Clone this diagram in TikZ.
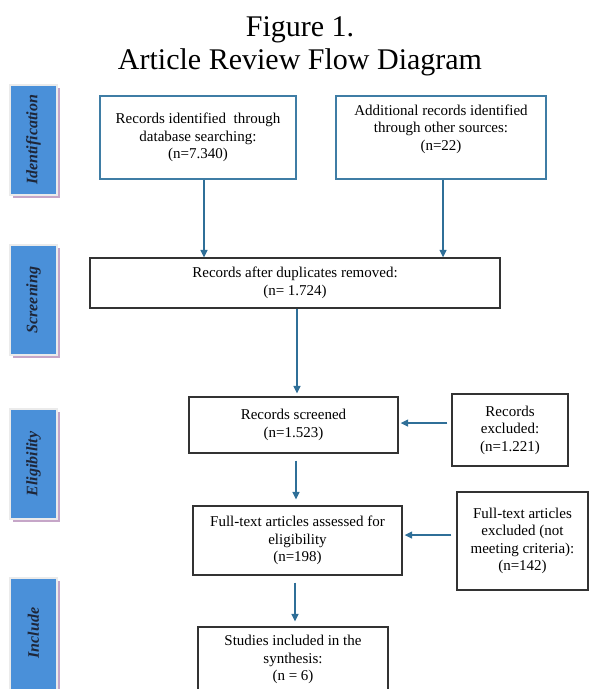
\documentclass[tikz,border=0pt]{standalone}
\usepackage{fontspec}
\setmainfont{Liberation Serif}
\usetikzlibrary{arrows.meta,shadows}
\definecolor{lblue}{HTML}{4A90D9}
\definecolor{mauve}{HTML}{C6A6C8}
\definecolor{arrowc}{HTML}{2F6F98}
\definecolor{boxblue}{HTML}{3F7DA5}
\definecolor{boxgray}{HTML}{333333}
\definecolor{labtext}{HTML}{1E2638}
\tikzset{
  titletext/.style={font=\fontsize{30bp}{33bp}\selectfont, inner sep=0pt},
  bodytext/.style={font=\fontsize{15bp}{17.5bp}\selectfont, align=center, inner sep=0pt},
  bluebox/.style={draw=boxblue, line width=1.3bp, rectangle, inner sep=0pt, font=\fontsize{15bp}{17.5bp}\selectfont, align=center},
  graybox/.style={draw=boxgray, line width=1.3bp, rectangle, inner sep=0pt, font=\fontsize{15bp}{17.5bp}\selectfont, align=center},
  sidebox/.style={fill=lblue, draw=black!8, line width=2bp, minimum width=47bp, minimum height=110bp, inner sep=0pt,
    drop shadow={shadow xshift=3bp, shadow yshift=-3bp, fill=mauve, opacity=1}},
  sidetext/.style={font=\fontsize{16bp}{16bp}\selectfont\bfseries\itshape, text=labtext},
  arr/.style={draw=arrowc, line width=1.4bp, -{Triangle[width=7bp,length=7.5bp]}}
}
\begin{document}
\begin{tikzpicture}[x=1bp,y=-1bp]
\useasboundingbox (0,0) rectangle (597,689);
\clip (0,0) rectangle (597,689);
% title
\node[titletext, anchor=base] (t1) at (300,37) {Figure 1.};
\node[titletext, anchor=base] (t2) at (300,70) {Article Review Flow Diagram};
% side labels
\node[sidebox] (lid) at (33.5,140) {};
\node[sidebox] (lsc) at (33.5,300) {};
\node[sidebox] (lel) at (33.5,464) {};
\node[sidebox, minimum height=116bp] (lin) at (33.5,636) {};
\node[sidetext, rotate=90] (lidt) at (lid) {Identification};
\node[sidetext, rotate=90] (lsct) at (lsc) {Screening};
\node[sidetext, rotate=90] (lelt) at (lel) {Eligibility};
\node[sidetext, rotate=90] (lint) at (33.5,633) {Include};
% boxes
\node[bluebox, minimum width=196bp, minimum height=83bp] (b1) at (198,137.5)
  {Records identified\ \ through\\database searching:\\(n=7.340)};
\node[bluebox, minimum width=210bp, minimum height=83bp] (b2) at (441,137.5) {};
\node[bodytext] (b2t) at (441,129) {Additional records identified\\through other sources:\\(n=22)};
\node[graybox, minimum width=410bp, minimum height=50bp] (scr) at (295,283)
  {Records after duplicates removed:\\(n= 1.724)};
\node[graybox, minimum width=209bp, minimum height=56bp] (rs) at (293.5,425)
  {Records screened\\(n=1.523)};
\node[graybox, minimum width=116bp, minimum height=72bp] (rex) at (510,430)
  {Records\\excluded:\\(n=1.221)};
\node[graybox, minimum width=209bp, minimum height=69bp] (ft) at (297.5,540.5)
  {Full-text articles assessed for\\eligibility\\(n=198)};
\node[graybox, minimum width=131bp, minimum height=98bp] (fte) at (522.5,541)
  {Full-text articles\\excluded (not\\meeting criteria):\\(n=142)};
\node[graybox, minimum width=190bp, minimum height=80bp] (st) at (293,667) {};
\node[bodytext] (stt) at (293,659.5) {Studies included in the\\synthesis:\\(n = 6)};
% connectors
\draw[arr] ([xshift=6bp]b1.south) -- ([xshift=6bp]b1.south |- scr.north);
\draw[arr] ([xshift=2bp]b2.south) -- ([xshift=2bp]b2.south |- scr.north);
\draw[arr, shorten >=3bp] ([xshift=2bp]scr.south) -- ([xshift=2bp]scr.south |- rs.north);
\draw[arr, shorten <=4bp, shorten >=2bp] ([yshift=7bp]rex.west) -- ([yshift=7bp]rex.west -| rs.east);
\draw[arr, shorten <=7bp, shorten >=6bp] ([xshift=2.5bp]rs.south) -- ([xshift=2.5bp]rs.south |- ft.north);
\draw[arr, shorten <=5bp, shorten >=2bp] ([yshift=6bp]fte.west) -- ([yshift=6bp]fte.west -| ft.east);
\draw[arr, shorten <=7bp, shorten >=5bp] ([xshift=-2.5bp]ft.south) -- ([xshift=-2.5bp]ft.south |- st.north);
\end{tikzpicture}
\end{document}
